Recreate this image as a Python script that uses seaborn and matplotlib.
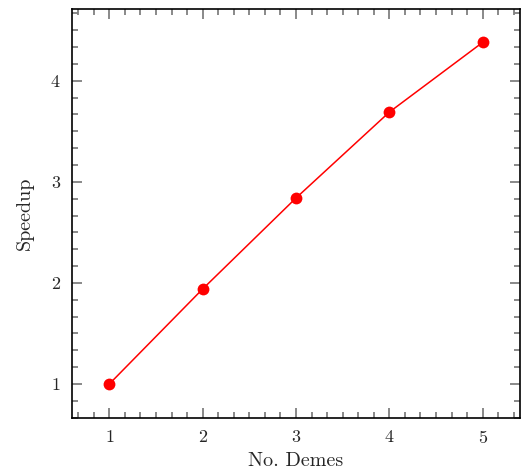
import matplotlib
matplotlib.use("Agg")
import matplotlib.pyplot as plt
from matplotlib.ticker import MultipleLocator
import seaborn as sns
import pandas as pd

demes = [1, 2, 3, 4, 5]
speedup = [1.0, 1.94, 2.84, 3.69, 4.38]

sns.set_style("ticks")
plt.rcParams.update({
    "font.family": "serif",
    "font.serif": ["cmr10", "DejaVu Serif"],
    "mathtext.fontset": "cm",
    "axes.formatter.use_mathtext": True,
    "axes.unicode_minus": False,
})

df = pd.DataFrame({"No. Demes": demes, "Speedup": speedup})

fig = plt.figure(figsize=(5.23, 4.74), dpi=100)
ax = fig.add_axes([0.1377, 0.1181, 0.9943 - 0.1377, 0.981 - 0.1181])
sns.lineplot(data=df, x="No. Demes", y="Speedup", ax=ax, color="red",
             marker="o", markersize=8.5, markeredgewidth=0, linewidth=1.1)

ax.set_xlim(0.6, 5.4)
ax.set_ylim(0.663, 4.71)
ax.xaxis.set_major_locator(MultipleLocator(1))
ax.yaxis.set_major_locator(MultipleLocator(1))
ax.xaxis.set_minor_locator(MultipleLocator(1 / 6))
ax.yaxis.set_minor_locator(MultipleLocator(1 / 6))
ax.tick_params(which="both", direction="in", top=True, right=True,
               color="#808080", width=1.3, labelsize=13, pad=8)
ax.tick_params(which="major", length=7)
ax.tick_params(which="minor", length=4.5)
for s in ax.spines.values():
    s.set_visible(True)
    s.set_linewidth(1.2)
    s.set_color("black")
ax.set_xlabel("No. Demes", fontsize=14.5, labelpad=4)
ax.set_ylabel("Speedup", fontsize=14.5, labelpad=12)

fig.savefig("out.png", dpi=100)
